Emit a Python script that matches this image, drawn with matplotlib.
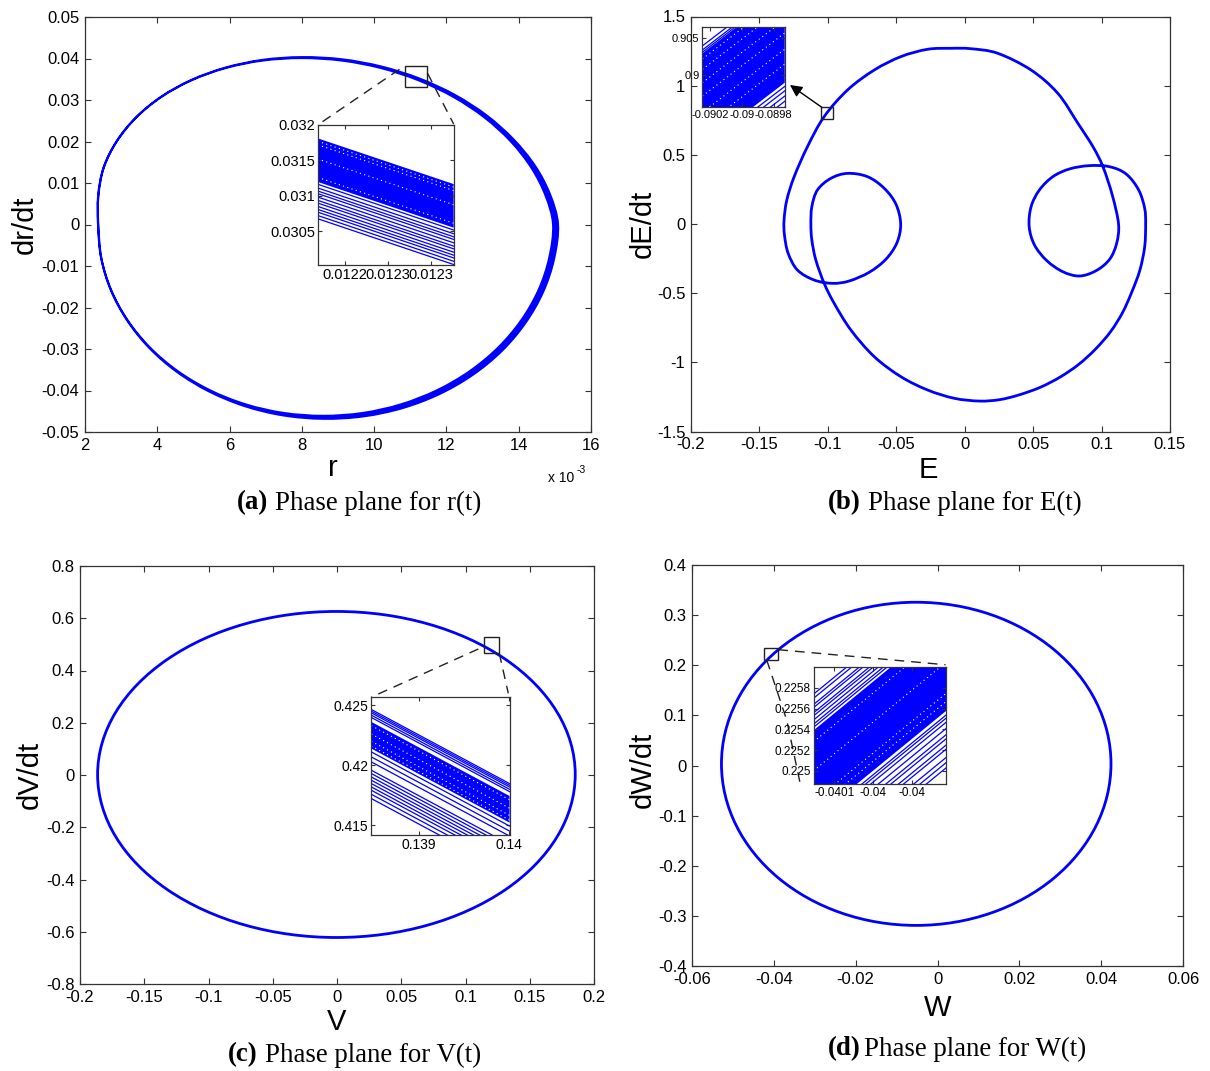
import numpy as np
import matplotlib
matplotlib.use("Agg")
import matplotlib.pyplot as plt
from matplotlib.patches import Ellipse, Rectangle, PathPatch
from matplotlib.path import Path
from matplotlib.ticker import FuncFormatter, FixedLocator

plt.rcParams['font.family'] = ['Liberation Sans', 'DejaVu Sans']

BLUE = '#0000ff'
W, H = 1210, 1071

# ---------------- data ----------------
# (a) r(t) orbit band: inner and outer edge (r in units of 1e-3)
r_inner = [14.950, 14.741, 14.347, 13.777, 13.054, 12.198, 11.233, 10.191, 9.104, 8.000,
           6.916, 5.889, 4.943, 4.110, 3.418, 2.883, 2.521, 2.372, 2.368, 2.452,
           2.723, 3.178, 3.797, 4.562, 5.454, 6.443, 7.497, 8.590, 9.685, 10.745,
           11.744, 12.650, 13.433, 14.072, 14.549, 14.844]
rdot_inner = [0.0, 0.00698, 0.01371, 0.02005, 0.02578, 0.03072, 0.03473, 0.03769, 0.03950, 0.04010,
              0.03950, 0.03769, 0.03473, 0.03072, 0.02578, 0.02005, 0.01371, 0.00698, 0.0, -0.00802,
              -0.01577, -0.02305, -0.02964, -0.03531, -0.03992, -0.04333, -0.04541, -0.04610, -0.04541,
              -0.04333, -0.03992, -0.03531, -0.02964, -0.02305, -0.01577, -0.00802]
r_outer = [15.088, 14.870, 14.458, 13.861, 13.118, 12.243, 11.261, 10.206, 9.110, 8.000,
           6.913, 5.884, 4.937, 4.105, 3.412, 2.876, 2.513, 2.364, 2.360, 2.444,
           2.714, 3.166, 3.780, 4.542, 5.433, 6.424, 7.485, 8.590, 9.702, 10.783,
           11.806, 12.735, 13.539, 14.192, 14.679, 14.980]
rdot_outer = [0.0, 0.00718, 0.01406, 0.02047, 0.02625, 0.03118, 0.03515, 0.03805, 0.03981, 0.04034,
              0.03967, 0.03780, 0.03481, 0.03078, 0.02583, 0.02009, 0.01373, 0.00698, 0.0, -0.00803,
              -0.01580, -0.02311, -0.02976, -0.03551, -0.04023, -0.04378, -0.04600, -0.04682, -0.04624,
              -0.04424, -0.04086, -0.03619, -0.03041, -0.02365, -0.01618, -0.00823]
a_xticks = [2, 4, 6, 8, 10, 12, 14, 16]          # x 1e-3
a_yticks = [-0.05, -0.04, -0.03, -0.02, -0.01, 0, 0.01, 0.02, 0.03, 0.04, 0.05]

# (b) E(t) orbit (closed)
E_pts = [-0.0100, 0.0046, 0.0241, 0.0485, 0.0680, 0.0827, 0.0937, 0.1010, 0.1078, 0.1124,
         0.1110, 0.1059, 0.0961, 0.0839, 0.0717, 0.0600, 0.0510, 0.0471, 0.0485, 0.0546,
         0.0644, 0.0766, 0.0912, 0.1059, 0.1180, 0.1271, 0.1315, 0.1322,
         0.1315, 0.1280, 0.1222, 0.1154, 0.1066, 0.0956, 0.0834, 0.0698, 0.0551, 0.0395,
         0.0254, 0.0107,
         -0.0076, -0.0271, -0.0466,
         -0.0661, -0.0832, -0.0954, -0.1027, -0.1088, -0.1117, -0.1124, -0.1117, -0.1076, -0.0978,
         -0.0856, -0.0710, -0.0588, -0.0502, -0.0468, -0.0495, -0.0576, -0.0698, -0.0844, -0.0966,
         -0.1100, -0.1222, -0.1290, -0.1317, -0.1320, -0.1300, -0.1246, -0.1149, -0.1027, -0.0856,
         -0.0661, -0.0466, -0.0271]
dE_pts = [1.270, 1.267, 1.234, 1.113, 0.945, 0.728, 0.559, 0.414, 0.210, 0.000,
          -0.140, -0.255, -0.337, -0.376, -0.345, -0.265, -0.152, -0.019, 0.125, 0.246,
          0.342, 0.398, 0.422, 0.414, 0.361, 0.246, 0.113, 0.000,
          -0.164, -0.333, -0.489, -0.639, -0.778, -0.904, -1.014, -1.106, -1.181, -1.236,
          -1.270, -1.280,
          -1.260, -1.200, -1.104,
          -0.959, -0.766, -0.573, -0.429, -0.260, -0.116, 0.000, 0.125, 0.246, 0.330,
          0.366, 0.342, 0.258, 0.142, 0.000, -0.135, -0.255, -0.349, -0.412, -0.429,
          -0.405, -0.333, -0.212, -0.080, 0.029, 0.173, 0.342, 0.559, 0.776, 0.969,
          1.113, 1.210, 1.263]
b_xticks = [-0.2, -0.15, -0.1, -0.05, 0, 0.05, 0.1, 0.15]
b_yticks = [-1.5, -1, -0.5, 0, 0.5, 1, 1.5]

# (c) V(t) orbit extent
V_range = [-0.1863, 0.1854]
dV_range = [-0.622, 0.626]
c_xticks = [-0.2, -0.15, -0.1, -0.05, 0, 0.05, 0.1, 0.15, 0.2]
c_yticks = [-0.8, -0.6, -0.4, -0.2, 0, 0.2, 0.4, 0.6, 0.8]

# (d) W(t) orbit extent
W_range = [-0.0528, 0.0424]
dW_range = [-0.319, 0.3257]
d_xticks = [-0.06, -0.04, -0.02, 0, 0.02, 0.04, 0.06]
d_yticks = [-0.4, -0.3, -0.2, -0.1, 0, 0.1, 0.2, 0.3, 0.4]

# zoomed windows: trajectory strands given by their value at the left edge,
# each strand changes by `shift` across the window
ins_a = dict(xlim=[0.0121944, 0.0123209], ylim=[0.03003, 0.03200], shift=-0.000645,
             band=[0.031811, 0.031197],
             lines=[0.031164, 0.031112, 0.031069, 0.031032, 0.030984, 0.030937, 0.030899,
                    0.030852, 0.030810, 0.030771, 0.030724, 0.030678],
             gaps=[0.03177, 0.03172, 0.03152, 0.03126],
             xticks=[0.01222, 0.01226, 0.01230], yticks=[0.0305, 0.031, 0.0315, 0.032],
             xfmt='%.3g', yfmt='%g', fs=10.5)
ins_b = dict(xlim=[-0.09025, -0.08973], ylim=[0.89568, 0.90645], shift=0.0085,
             band=[0.90295, 0.8905],
             lines=[0.90395, 0.90340, 0.90310, 0.8900, 0.8894, 0.8887, 0.8880, 0.8872],
             gaps=[0.9022, 0.9008, 0.8990, 0.8972, 0.8950, 0.8930],
             xticks=[-0.0902, -0.09, -0.0898], yticks=[0.9, 0.905],
             xfmt='%.3g', yfmt='%g', fs=8)
ins_c = dict(xlim=[0.13847, 0.14001], ylim=[0.41417, 0.42567], shift=-0.00617,
             band=[0.423613, 0.421396],
             lines=[0.424645, 0.424504, 0.424362, 0.424170, 0.423979, 0.421113, 0.420696,
                    0.420280, 0.419588, 0.419313, 0.419030, 0.418755, 0.418481, 0.418198,
                    0.417923, 0.417589, 0.417232],
             gaps=[0.4233, 0.4226, 0.4220, 0.4216],
             xticks=[0.139, 0.14], yticks=[0.415, 0.42, 0.425],
             xfmt='%g', yfmt='%g', fs=10)
ins_d = dict(xlim=[-0.0401015, -0.039965], ylim=[0.22487, 0.2260], shift=0.00105,
             band=[0.22539, 0.22453],
             lines=[0.22542, 0.22545, 0.22549, 0.22553, 0.22556, 0.22561, 0.22564, 0.22570,
                    0.22574, 0.22449, 0.22446, 0.22442, 0.22436, 0.22430, 0.22426, 0.22420,
                    0.22416, 0.22408, 0.22403, 0.22398],
             gaps=[0.22528, 0.22500, 0.22470, 0.22462],
             xticks=[-0.04008, -0.04004, -0.04000], yticks=[0.225, 0.2252, 0.2254, 0.2256, 0.2258],
             xfmt='%.3g', yfmt='%.4g', fs=8.5)

# ---------------- helpers ----------------
def gfmt(scale=1.0, fmt='%g'):
    return FuncFormatter(lambda v, p: fmt % round(v * scale, 10))


def closed_curve(xs, ys):
    """Smooth closed Bezier path through the given points."""
    P = np.column_stack([xs, ys]).astype(float)
    n = len(P)
    verts = [P[0]]
    codes = [Path.MOVETO]
    for i in range(n):
        p0, p1, p2, p3 = P[i - 1], P[i], P[(i + 1) % n], P[(i + 2) % n]
        verts += [p1 + (p2 - p0) / 6.0, p2 - (p3 - p1) / 6.0, p2]
        codes += [Path.CURVE4] * 3
    return verts, codes


def style(ax, fs, tl=4.0, pad=4):
    ax.tick_params(direction='in', top=True, right=True, length=tl, width=0.8,
                   labelsize=fs, color='#333333', pad=pad)
    for s in ax.spines.values():
        s.set_linewidth(0.9)
        s.set_color('#333333')


def zoom_window(parent, rect, spec):
    ins = parent.inset_axes(rect, transform=parent.transData)
    x0, x1 = spec['xlim']
    sh = spec['shift']
    b0, b1 = spec['band']
    ins.fill([x0, x1, x1, x0], [b0, b0 + sh, b1 + sh, b1], color=BLUE, lw=0)
    for y in spec['lines']:
        ins.plot([x0, x1], [y, y + sh], color=BLUE, lw=0.9)
    for y in spec['gaps']:
        ins.plot([x0, x1], [y, y + sh], color='white', lw=0.8, ls=(0, (1, 3)))
    ins.set_xlim(spec['xlim'])
    ins.set_ylim(spec['ylim'])
    ins.xaxis.set_major_locator(FixedLocator(spec['xticks']))
    ins.yaxis.set_major_locator(FixedLocator(spec['yticks']))
    ins.xaxis.set_major_formatter(gfmt(1.0, spec['xfmt']))
    ins.yaxis.set_major_formatter(gfmt(1.0, spec['yfmt']))
    style(ins, spec['fs'], tl=3, pad=2)
    return ins


def box(ax, x0, x1, y0, y1):
    ax.add_patch(Rectangle((x0, y0), x1 - x0, y1 - y0, fill=False, ec='#222222', lw=1.0, zorder=5))


def dashed(ax, xs, ys):
    ax.plot(xs, ys, color='#222222', lw=1.0, ls=(0, (7, 5)), zorder=4, clip_on=False)


fig = plt.figure(figsize=(W / 100, H / 100), dpi=100)

def axes_px(l, r, t, b):
    return fig.add_axes([l / W, 1 - b / H, (r - l) / W, (b - t) / H])

ax_a = axes_px(85, 591, 17, 432)
ax_b = axes_px(691, 1170, 16.5, 431.5)
ax_c = axes_px(80, 594, 566, 984)
ax_d = axes_px(692, 1183, 565, 966)

# ---------------- (a) ----------------
vo, co = closed_curve(np.array(r_outer) * 1e-3, rdot_outer)
vi, ci = closed_curve(np.array(r_inner[::-1]) * 1e-3, rdot_inner[::-1])
ax_a.add_patch(PathPatch(Path(vo + vi, co + ci), fc=BLUE, ec=BLUE, lw=1.5))
ax_a.set_xlim(0.002, 0.016)
ax_a.set_ylim(-0.05, 0.05)
ax_a.xaxis.set_major_locator(FixedLocator(np.array(a_xticks) * 1e-3))
ax_a.yaxis.set_major_locator(FixedLocator(a_yticks))
ax_a.xaxis.set_major_formatter(gfmt(1e3))
ax_a.yaxis.set_major_formatter(gfmt())
style(ax_a, 12)
ax_a.text(0.915, -0.111, 'x 10', transform=ax_a.transAxes, fontsize=10, va='center', ha='left')
ax_a.text(0.972, -0.092, '-3', transform=ax_a.transAxes, fontsize=7.5, va='center', ha='left')
box(ax_a, 0.01085, 0.01146, 0.0332, 0.0382)
zoom_window(ax_a, [0.00844, -0.0097, 0.00376, 0.0337], ins_a)
dashed(ax_a, [0.01070, 0.00844], [0.0374, 0.0240])
dashed(ax_a, [0.01148, 0.01220], [0.0364, 0.0242])

# ---------------- (b) ----------------
vb, cb = closed_curve(E_pts, dE_pts)
ax_b.add_patch(PathPatch(Path(vb, cb), fill=False, ec=BLUE, lw=2.0))
ax_b.set_xlim(-0.2, 0.15)
ax_b.set_ylim(-1.5, 1.5)
ax_b.xaxis.set_major_locator(FixedLocator(b_xticks))
ax_b.yaxis.set_major_locator(FixedLocator(b_yticks))
ax_b.xaxis.set_major_formatter(gfmt())
ax_b.yaxis.set_major_formatter(gfmt())
style(ax_b, 12)
box(ax_b, -0.1052, -0.0960, 0.757, 0.844)
zoom_window(ax_b, [-0.1917, 0.843, 0.0602, 0.5787], ins_b)
ax_b.annotate('', xy=(-0.1277, 1.005), xytext=(-0.1045, 0.844),
              arrowprops=dict(arrowstyle='-|>', color='black', lw=1.0, mutation_scale=18,
                              shrinkA=0, shrinkB=0), zorder=6)

# ---------------- (c) ----------------
ax_c.add_patch(Ellipse(((V_range[0] + V_range[1]) / 2, (dV_range[0] + dV_range[1]) / 2),
                       V_range[1] - V_range[0], dV_range[1] - dV_range[0],
                       fill=False, ec=BLUE, lw=2.0))
ax_c.set_xlim(-0.2, 0.2)
ax_c.set_ylim(-0.8, 0.8)
ax_c.xaxis.set_major_locator(FixedLocator(c_xticks))
ax_c.yaxis.set_major_locator(FixedLocator(c_yticks))
ax_c.xaxis.set_major_formatter(gfmt())
ax_c.yaxis.set_major_formatter(gfmt())
style(ax_c, 12)
box(ax_c, 0.1146, 0.1261, 0.467, 0.527)
zoom_window(ax_c, [0.0267, -0.231, 0.1076, 0.529], ins_c)
dashed(ax_c, [0.1100, 0.0267], [0.4823, 0.298])
dashed(ax_c, [0.1263, 0.1333], [0.4658, 0.3127])

# ---------------- (d) ----------------
ax_d.add_patch(Ellipse(((W_range[0] + W_range[1]) / 2, (dW_range[0] + dW_range[1]) / 2),
                       W_range[1] - W_range[0], dW_range[1] - dW_range[0],
                       fill=False, ec=BLUE, lw=2.0))
ax_d.set_xlim(-0.06, 0.06)
ax_d.set_ylim(-0.4, 0.4)
ax_d.xaxis.set_major_locator(FixedLocator(d_xticks))
ax_d.yaxis.set_major_locator(FixedLocator(d_yticks))
ax_d.xaxis.set_major_formatter(gfmt())
ax_d.yaxis.set_major_formatter(gfmt())
style(ax_d, 12)
box(ax_d, -0.0423, -0.0389, 0.210, 0.234)
zoom_window(ax_d, [-0.0303, -0.0374, 0.03245, 0.2334], ins_d)
dashed(ax_d, [-0.0389, 0.00197], [0.231, 0.201])
dashed(ax_d, [-0.04174, -0.03686, -0.0336], [0.2105, 0.0908, -0.0343])

# ---------------- axis labels ----------------
for ax, xl, yl, xc, yc in [
        (ax_a, 'r', 'dr/dt', (0.490, -0.087), (-0.119, 0.5)),
        (ax_b, 'E', 'dE/dt', (0.495, -0.093), (-0.100, 0.5)),
        (ax_c, 'V', 'dV/dt', (0.500, -0.091), (-0.097, 0.5)),
        (ax_d, 'W', 'dW/dt', (0.501, -0.105), (-0.100, 0.489))]:
    ax.set_xlabel(xl, fontsize=21, va='center')
    ax.set_ylabel(yl, fontsize=21, va='center')
    ax.xaxis.set_label_coords(*xc)
    ax.yaxis.set_label_coords(*yc)

# ---------------- captions ----------------
def caption(ax, xpx, ypx, tag, text, gap):
    t = fig.text(xpx / W, 1 - ypx / H, tag, fontfamily='Liberation Serif', fontweight='bold',
                 fontsize=19.4, va='center', ha='left')
    ax.annotate(text, xy=(1, 0.5), xycoords=t, xytext=(gap, 0), textcoords='offset points',
                va='center', ha='left', fontfamily='Liberation Serif', fontsize=19.4,
                annotation_clip=False)

caption(ax_a, 237, 503, '(a)', 'Phase plane for r(t)', 5)
caption(ax_b, 828, 503, '(b)', 'Phase plane for E(t)', 5)
caption(ax_c, 228, 1055, '(c)', 'Phase plane for V(t)', 5)
caption(ax_d, 828, 1049, '(d)', 'Phase plane for W(t)', 2)

fig.savefig('out.png', dpi=100, facecolor='white')
